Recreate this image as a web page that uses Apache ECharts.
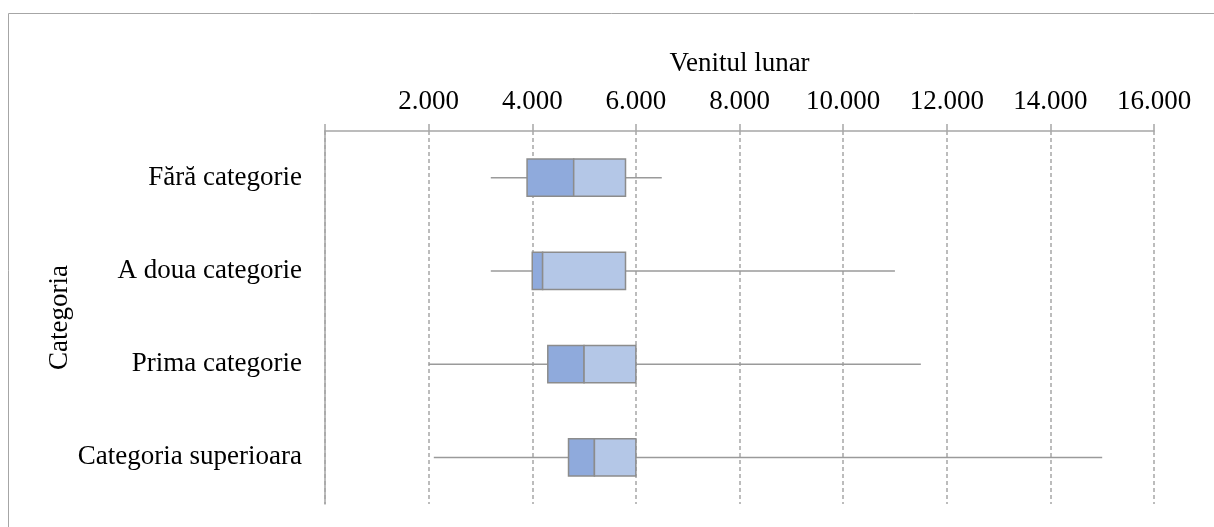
<!DOCTYPE html>
<html>
<head>
<meta charset="utf-8">
<script src="https://cdn.jsdelivr.net/npm/echarts@6/dist/echarts.min.js"></script>
<style>
html,body{margin:0;padding:0;background:#fff;}
#chart{width:1214px;height:527px;}
</style>
</head>
<body>
<div id="chart"></div>
<script>
// ---- data ----
var categories = ['Fără categorie', 'A doua categorie', 'Prima categorie', 'Categoria superioara'];
var minVals    = [3200, 3200, 2000, 2100];
var q1Vals     = [3900, 4000, 4300, 4700];
var medianVals = [4800, 4200, 5000, 5200];
var q3Vals     = [5800, 5800, 6000, 6000];
var maxVals    = [6500, 11000, 11500, 15000];
var axisMin = 0, axisMax = 16000, axisStep = 2000;
var xTitle = 'Venitul lunar';
var yTitle = 'Categoria';

var rows = categories.map(function (c, i) {
  return [i, minVals[i], q1Vals[i], medianVals[i], q3Vals[i], maxVals[i]];
});

var FONT = '"Liberation Serif", "Times New Roman", serif';
var FS = 27;
var chart = echarts.init(document.getElementById('chart'), null, {renderer: 'canvas'});

function fmt(v) {
  if (v === 0) return '';
  return String(v).replace(/\B(?=(\d{3})+(?!\d))/g, '.');
}

function renderItem(params, api) {
  var yi = api.value(0);
  var pMin = api.coord([api.value(1), yi]);
  var pQ1 = api.coord([api.value(2), yi]);
  var pMed = api.coord([api.value(3), yi]);
  var pQ3 = api.coord([api.value(4), yi]);
  var pMax = api.coord([api.value(5), yi]);
  var h = api.size([0, 1])[1] * 0.4;
  var cy = pMin[1];
  var top = cy - h / 2;
  var lineStyle = {stroke: '#9a9a9a', lineWidth: 1.5, fill: null};
  var boxStroke = '#8c8c8c';
  return {
    type: 'group',
    children: [
      {type: 'line', shape: {x1: pMin[0], y1: cy, x2: pQ1[0], y2: cy}, style: lineStyle},
      {type: 'line', shape: {x1: pQ3[0], y1: cy, x2: pMax[0], y2: cy}, style: lineStyle},
      {type: 'rect', shape: {x: pQ1[0], y: top, width: pMed[0] - pQ1[0], height: h},
        style: {fill: '#8faadc', stroke: boxStroke, lineWidth: 1.5}},
      {type: 'rect', shape: {x: pMed[0], y: top, width: pQ3[0] - pMed[0], height: h},
        style: {fill: '#b4c7e7', stroke: boxStroke, lineWidth: 1.5}}
    ]
  };
}

var option = {
  animation: false,
  backgroundColor: '#ffffff',
  textStyle: {fontFamily: FONT},
  graphic: [{
    type: 'rect',
    shape: {x: 8.5, y: 13.5, width: 3000, height: 3000},
    style: {fill: null, stroke: '#a6a6a6', lineWidth: 1},
    silent: true
  }],
  grid: {left: 325, right: 60, top: 131, bottom: 23, containLabel: false},
  xAxis: {
    type: 'value',
    position: 'top',
    min: axisMin,
    max: axisMax,
    interval: axisStep,
    name: xTitle,
    nameLocation: 'middle',
    nameGap: 54,
    nameMoveOverlap: false,
    nameTextStyle: {fontFamily: FONT, fontSize: FS, color: '#000'},
    axisLine: {show: true, lineStyle: {color: '#a6a6a6', width: 1.5}},
    axisTick: {show: true, inside: false, length: 7, lineStyle: {color: '#a6a6a6', width: 1.5}},
    axisLabel: {fontFamily: FONT, fontSize: FS, color: '#000', margin: 16, formatter: fmt},
    splitLine: {show: true, lineStyle: {color: '#a6a6a6', width: 1.5, type: [4, 3]}}
  },
  yAxis: {
    type: 'category',
    data: categories,
    inverse: true,
    name: yTitle,
    nameLocation: 'middle',
    nameGap: 252,
    nameMoveOverlap: false,
    nameTextStyle: {fontFamily: FONT, fontSize: FS, color: '#000'},
    axisLine: {show: true, lineStyle: {color: '#a6a6a6', width: 1.5}},
    axisTick: {show: false},
    axisLabel: {fontFamily: FONT, fontSize: FS, color: '#000', margin: 23},
    splitLine: {show: false}
  },
  series: [{
    type: 'custom',
    renderItem: renderItem,
    data: rows,
    encode: {x: [1, 2, 3, 4, 5], y: 0},
    clip: false
  }]
};
chart.setOption(option);
</script>
</body>
</html>
